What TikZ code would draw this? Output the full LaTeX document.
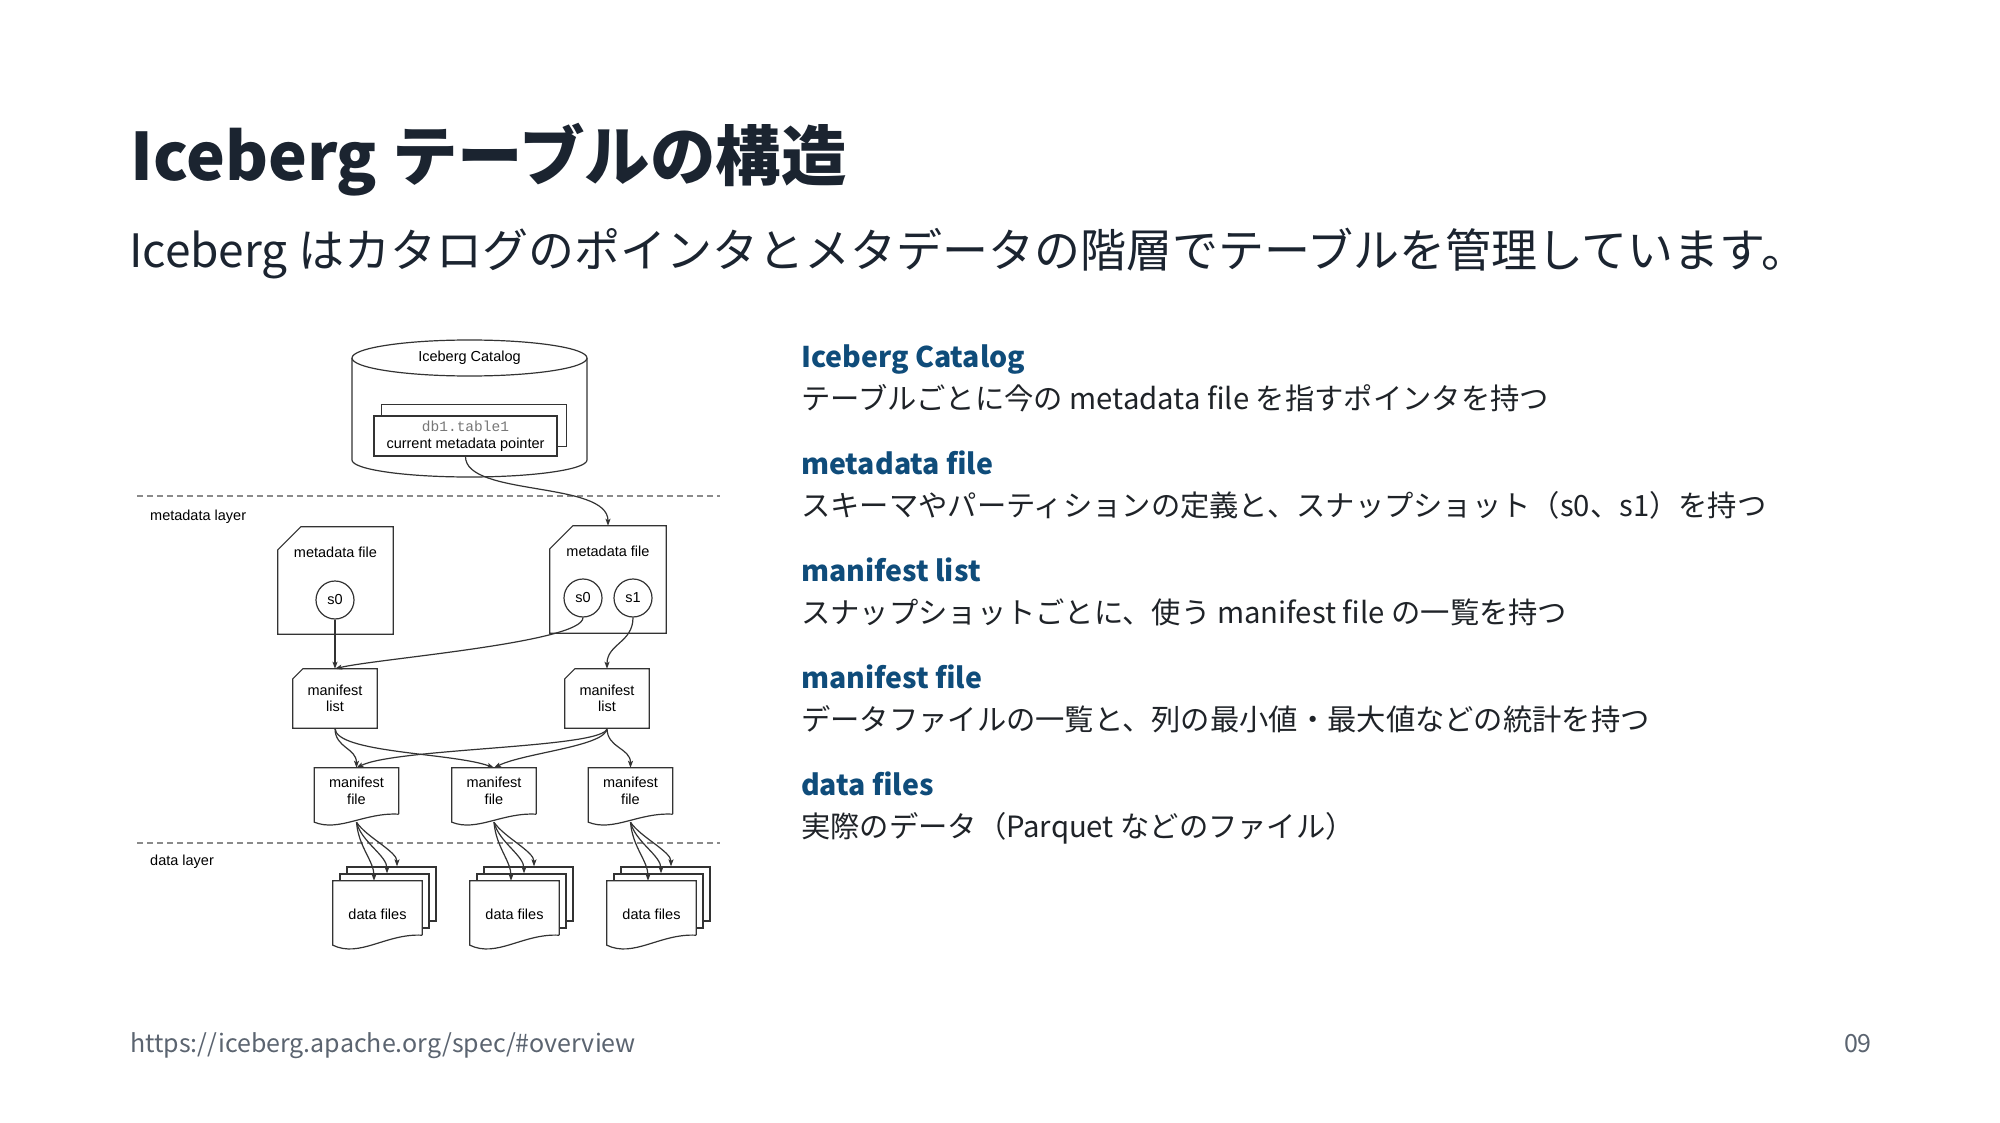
\documentclass[tikz,border=0pt]{standalone}
\usepackage{fontspec}
\setmainfont{Noto Sans CJK JP}
\newfontfamily\diasans{Liberation Sans}
\newfontfamily\diamono{Liberation Mono}
\usetikzlibrary{arrows.meta,calc,positioning}
\definecolor{inkdark}{HTML}{1B2430}
\definecolor{inkblue}{HTML}{0F4C7A}
\definecolor{inkbody}{HTML}{1F2328}
\definecolor{inkfoot}{HTML}{5B6470}
\definecolor{inkline}{HTML}{333333}
\definecolor{inkdash}{HTML}{8A8A8A}
\definecolor{inkmono}{HTML}{777777}
\begin{document}
\begin{tikzpicture}[x=1pt,y=-1pt,
    every node/.style={inner sep=0pt},
    dia/.style={font=\diasans\fontsize{14.5}{16.5}\selectfont,align=center},
    wire/.style={draw=inkline,line width=1.2pt},
    link/.style={wire,-{Stealth[length=7pt,width=5pt,inset=1.5pt]}},
    layerline/.style={draw=inkdash,line width=1.2pt,dash pattern=on 6pt off 4pt},
    headtext/.style={anchor=base west,text=inkblue,font=\fontsize{28.5}{34}\selectfont\bfseries},
    desctext/.style={anchor=base west,text=inkbody,font=\fontsize{29.3}{35}\selectfont},
    snap/.style={dia,circle,wire,minimum size=38pt},
    sheet/.style={dia,minimum width=#1}
  ]
  \useasboundingbox[fill=white] (0,0) rectangle (2000,1123);

  % heading
  \node[anchor=base west,text=inkdark,font=\fontsize{65.5}{78}\selectfont\bfseries] (title) at (130,181) {Iceberg テーブルの構造};
  \node[anchor=base west,text=inkdark,font=\fontsize{46}{55}\selectfont] (lead) at (129,268) {Iceberg はカタログのポインタとメタデータの階層でテーブルを管理しています。};

  % catalog
  \draw[wire,fill=white] (352,358) -- (352,460) arc[start angle=180,end angle=360,x radius=117.5pt,y radius=17pt] -- (587,358);
  \draw[wire,fill=white] (469.5,358) ellipse[x radius=117.5pt,y radius=18pt];
  \node[dia] (catalog) at (469.5,358) {Iceberg Catalog};
  \node[dia,wire,fill=white,minimum width=183pt,minimum height=40pt] (pointer) at (465.5,436)
    {{\diamono\color{inkmono}db1.table1}\\current metadata pointer};
  \draw[wire] ($(pointer.north west)+(8,0)$) |- ($(pointer.north east)+(9,-11)$) |- ($(pointer.south east)+(0,-10)$);

  % layers
  \coordinate (metaL) at (137,496);
  \coordinate (metaR) at (720,496);
  \coordinate (dataL) at (137,843);
  \coordinate (dataR) at (720,843);
  \draw[layerline] (metaL) -- (metaR);
  \draw[layerline] (dataL) -- (dataR);
  \node[dia,anchor=west] (metalabel) at (150,517) {metadata layer};
  \node[dia,anchor=west] (datalabel) at (150,862) {data layer};

  % metadata files
  \node[sheet=115pt,minimum height=107pt] (meta1) at (335.5,580.5) {};
  \node[sheet=116pt,minimum height=107pt] (meta2) at (608,579.5) {};
  \foreach \n in {meta1,meta2}
    \draw[wire] ($(\n.north west)+(23,0)$) -- (\n.north east) -- (\n.south east) -- (\n.south west) -- ($(\n.north west)+(0,23)$) -- cycle;
  \node[dia] (meta1title) at ($(meta1.north)+(0,26)$) {metadata file};
  \node[dia] (meta2title) at ($(meta2.north)+(0,26)$) {metadata file};
  \node[snap] (snap1) at (335,600) {s0};
  \node[snap] (snap2) at (583,598) {s0};
  \node[snap] (snap3) at (633,598) {s1};

  % manifest lists
  \node[sheet=84pt,minimum height=59pt] (list1) at (335,698.5) {manifest\\list};
  \node[sheet=84pt,minimum height=59pt] (list2) at (607,698.5) {manifest\\list};
  \foreach \n in {list1,list2}
    \draw[wire] ($(\n.north west)+(10,0)$) -- (\n.north east) -- (\n.south east) -- (\n.south west) -- ($(\n.north west)+(0,10)$) -- cycle;

  % manifest files
  \node[sheet=84pt,minimum height=46pt] (file1) at (356.5,791) {manifest\\file};
  \node[sheet=84pt,minimum height=46pt] (file2) at (494,791) {manifest\\file};
  \node[sheet=84pt,minimum height=46pt] (file3) at (630.5,791) {manifest\\file};
  \foreach \n in {file1,file2,file3}
    \draw[wire] (\n.south east) -- (\n.north east) -- (\n.north west) -- ($(\n.south west)+(0,8)$)
      .. controls +(25,10) and +(-34,-2) .. (\n.south east);

  % data files
  \foreach \i/\x in {1/377.5,2/514.5,3/651.5} {
    \node[sheet=89pt,minimum height=54pt,wire,fill=white] (back\i) at (\x+14,894) {};
    \node[sheet=89pt,minimum height=54pt,wire,fill=white] (mid\i) at (\x+7,901) {};
    \node[sheet=89pt,minimum height=54pt] (data\i) at (\x,908) {};
    \draw[wire,fill=white] (data\i.south east) -- (data\i.north east) -- (data\i.north west) -- ($(data\i.south west)+(0,10)$)
      .. controls +(27,13) and +(-36,-2) .. (data\i.south east);
    \node[dia] (data\i text) at ($(data\i.center)+(0,6)$) {data files};
  }

  % pointers
  \draw[link] (pointer.south) .. controls +(0,40) and +(0,-45) .. (meta2.north);
  \draw[link] (snap1.south) -- (list1.north);
  \draw[link] (snap2.south) .. controls +(0,25) and +(40,-10) .. (list1.north);
  \draw[link] (snap3.south) .. controls +(0,25) and +(0,-25) .. (list2.north);
  \draw[link] (list1.south) .. controls +(0,20) and +(0,-20) .. (file1.north);
  \draw[link] (list1.south) .. controls +(0,25) and +(-40,-15) .. (file2.north);
  \draw[link] (list2.south) .. controls +(0,20) and +(40,-20) .. (file1.north);
  \draw[link] (list2.south) .. controls +(0,18) and +(30,-15) .. (file2.north);
  \draw[link] (list2.south) .. controls +(0,20) and +(0,-20) .. (file3.north);
  \foreach \i in {1,2,3} {
    \draw[link] ($(file\i.south)+(0,8)$) .. controls +(2,25) and +(0,-20) .. ($(data\i.north)+(-3.5,0)$);
    \draw[link] ($(file\i.south)+(0,8)$) .. controls +(5,20) and +(0,-18) .. ($(mid\i.north)+(2.5,0)$);
    \draw[link] ($(file\i.south)+(0,8)$) .. controls +(10,15) and +(0,-15) .. ($(back\i.north)+(5.5,0)$);
  }

  % notes
  \foreach \i/\head/\desc in {%
      0/Iceberg Catalog/テーブルごとに今の metadata file を指すポインタを持つ,
      1/metadata file/スキーマやパーティションの定義と、スナップショット（s0、s1）を持つ,
      2/manifest list/スナップショットごとに、使う manifest file の一覧を持つ,
      3/manifest file/データファイルの一覧と、列の最小値・最大値などの統計を持つ,
      4/data files/実際のデータ（Parquet などのファイル）} {
    \node[headtext] (head\i) at (801,367+107*\i) {\head};
    \node[desctext] (desc\i) at (801,409+107*\i) {\desc};
  }

  % footer
  \node[anchor=base west,text=inkfoot,font=\fontsize{25}{30}\selectfont] (source) at (130,1052) {https://iceberg.apache.org/spec/\#overview};
  \node[anchor=base east,text=inkfoot,font=\fontsize{25}{30}\selectfont] (pageno) at (1872,1052) {09};
\end{tikzpicture}
\end{document}
